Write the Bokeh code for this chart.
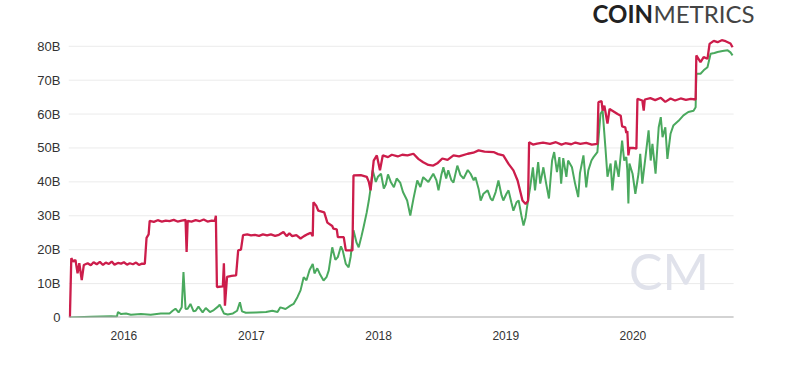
from datetime import datetime
import pandas as pd
from bokeh.plotting import figure
from bokeh.models import Range1d, FixedTicker, DatetimeTickFormatter, Label, ColumnDataSource
from bokeh.embed import file_html
from bokeh.resources import INLINE

# ---------------- data (values in billions) ----------------
red_dates = [
    "2015-07-30", "2015-08-03", "2015-08-09", "2015-08-15", "2015-08-21", "2015-08-26", "2015-09-02",
    "2015-09-08", "2015-09-19", "2015-09-28", "2015-10-06", "2015-10-15", "2015-10-24", "2015-11-02",
    "2015-11-10", "2015-11-19", "2015-11-27", "2015-12-05", "2015-12-15", "2015-12-24", "2016-01-01",
    "2016-01-10", "2016-01-18", "2016-01-27", "2016-02-05", "2016-02-13", "2016-02-22", "2016-03-01",
    "2016-03-06", "2016-03-12", "2016-03-15", "2016-03-27", "2016-04-07", "2016-04-19", "2016-04-30",
    "2016-05-11", "2016-05-23", "2016-06-03", "2016-06-15", "2016-06-26", "2016-06-29", "2016-07-02",
    "2016-07-13", "2016-07-25", "2016-08-05", "2016-08-17", "2016-08-28", "2016-09-09", "2016-09-18",
    "2016-09-21", "2016-09-24", "2016-10-11", "2016-10-14", "2016-10-17", "2016-10-23", "2016-11-05",
    "2016-11-18", "2016-11-24", "2016-12-02", "2016-12-08", "2016-12-20", "2016-12-31", "2017-01-11",
    "2017-01-23", "2017-02-03", "2017-02-15", "2017-02-26", "2017-03-10", "2017-03-21", "2017-04-03",
    "2017-04-12", "2017-04-20", "2017-04-28", "2017-05-10", "2017-05-22", "2017-06-01", "2017-06-12",
    "2017-06-20", "2017-06-26", "2017-06-28", "2017-07-06", "2017-07-12", "2017-07-29", "2017-08-07",
    "2017-08-21", "2017-08-24", "2017-09-03", "2017-09-06", "2017-09-23", "2017-09-29", "2017-10-18",
    "2017-10-21", "2017-11-11", "2017-11-28", "2017-12-04", "2017-12-09", "2017-12-18", "2017-12-27",
    "2018-01-05", "2018-01-13", "2018-01-28", "2018-02-08", "2018-02-25", "2018-03-10", "2018-03-25",
    "2018-04-11", "2018-04-25", "2018-05-09", "2018-05-24", "2018-06-07", "2018-06-20", "2018-07-03",
    "2018-07-18", "2018-08-04", "2018-08-20", "2018-09-14", "2018-09-30", "2018-10-15", "2018-11-01",
    "2018-11-27", "2018-12-10", "2018-12-25", "2019-01-09", "2019-01-23", "2019-02-04", "2019-02-18",
    "2019-02-27", "2019-03-06", "2019-03-09", "2019-03-20", "2019-04-01", "2019-04-18", "2019-05-08",
    "2019-05-25", "2019-06-10", "2019-06-21", "2019-07-08", "2019-07-20", "2019-08-03", "2019-08-20",
    "2019-09-05", "2019-09-21", "2019-09-24", "2019-10-03", "2019-10-06", "2019-10-11", "2019-10-20",
    "2019-10-26", "2019-11-03", "2019-11-18", "2019-11-27", "2019-12-01", "2019-12-10", "2019-12-13",
    "2019-12-16", "2019-12-19", "2019-12-22", "2020-01-02", "2020-01-11", "2020-01-14", "2020-01-28",
    "2020-02-01", "2020-02-04", "2020-02-20", "2020-03-05", "2020-03-21", "2020-04-03", "2020-04-18",
    "2020-05-01", "2020-05-17", "2020-06-01", "2020-06-15", "2020-06-29", "2020-07-01", "2020-07-13",
    "2020-07-22", "2020-08-02", "2020-08-08", "2020-08-20", "2020-08-31", "2020-09-12", "2020-09-23",
    "2020-10-07", "2020-10-13",
]
red_values = [
    0.0, 17.5, 16.5, 17.0, 13.0, 16.0, 11.0,
    15.5, 16.0, 15.4, 16.3, 15.7, 16.4, 15.5,
    16.2, 15.8, 16.5, 15.6, 16.1, 15.9, 16.3,
    15.6, 16.0, 15.7, 16.2, 15.5, 15.9, 15.8,
    23.5, 24.5, 28.5, 28.2, 28.7, 28.3, 28.6,
    28.4, 28.8, 28.3, 28.6, 28.8, 19.3, 28.5,
    28.3, 28.7, 28.4, 28.9, 28.3, 28.6, 28.5,
    30.0, 9.0, 9.2, 16.0, 3.5, 12.0, 12.3,
    12.4, 19.8, 20.0, 24.3, 24.5, 24.2, 24.4,
    24.1, 24.5, 24.2, 24.5, 24.1, 24.4, 25.2,
    24.0, 24.8, 24.0, 24.3, 23.3, 24.0, 24.6,
    25.0, 24.0, 34.0, 33.0, 31.5, 31.0, 28.0,
    27.0, 26.2, 26.0, 23.7, 23.7, 19.8, 19.8,
    41.9, 42.0, 41.5, 40.0, 37.5, 46.3, 47.8,
    43.4, 47.8, 47.3, 48.0, 47.5, 48.0, 47.8,
    48.3, 46.8, 45.8, 45.0, 44.8, 45.6, 46.9,
    46.5, 47.8, 47.5, 48.3, 48.6, 49.3, 48.9,
    48.8, 48.2, 47.8, 45.3, 43.4, 40.4, 34.5,
    33.5, 34.4, 51.7, 51.0, 51.3, 51.6, 51.2,
    51.7, 51.0, 51.4, 51.1, 51.6, 51.2, 51.5,
    51.0, 51.2, 63.5, 63.8, 61.0, 62.5, 57.2,
    61.5, 61.0, 60.0, 59.5, 56.4, 56.1, 54.4,
    55.0, 47.8, 50.0, 50.0, 49.8, 64.5, 64.0,
    61.0, 64.3, 64.7, 64.1, 64.8, 63.6, 64.6,
    64.0, 64.6, 64.2, 64.5, 64.3, 77.3, 75.3,
    76.8, 76.3, 80.7, 81.6, 81.2, 81.8, 81.5,
    80.8, 79.7,
]

green_dates = [
    "2015-07-30", "2015-09-28", "2015-10-27", "2015-11-25", "2015-12-12", "2015-12-15", "2015-12-24",
    "2016-01-07", "2016-01-21", "2016-02-19", "2016-03-18", "2016-04-16", "2016-05-11", "2016-05-20",
    "2016-05-28", "2016-06-06", "2016-06-15", "2016-06-20", "2016-06-26", "2016-07-02", "2016-07-10",
    "2016-07-19", "2016-07-25", "2016-08-02", "2016-08-14", "2016-08-23", "2016-09-04", "2016-09-15",
    "2016-09-27", "2016-10-02", "2016-10-08", "2016-10-14", "2016-10-25", "2016-11-09", "2016-11-21",
    "2016-11-29", "2016-12-05", "2016-12-16", "2017-01-14", "2017-02-12", "2017-03-02", "2017-03-17",
    "2017-03-25", "2017-04-09", "2017-04-23", "2017-05-02", "2017-05-13", "2017-05-22", "2017-05-31",
    "2017-06-08", "2017-06-17", "2017-06-26", "2017-07-01", "2017-07-09", "2017-07-18", "2017-07-27",
    "2017-08-05", "2017-08-11", "2017-08-21", "2017-08-30", "2017-09-06", "2017-09-15", "2017-09-20",
    "2017-09-29", "2017-10-07", "2017-10-13", "2017-10-21", "2017-10-30", "2017-11-05", "2017-11-13",
    "2017-11-19", "2017-11-28", "2017-12-04", "2017-12-09", "2017-12-15", "2017-12-24", "2017-12-30",
    "2018-01-08", "2018-01-16", "2018-01-22", "2018-01-28", "2018-02-05", "2018-02-14", "2018-02-22",
    "2018-03-04", "2018-03-12", "2018-03-24", "2018-04-02", "2018-04-11", "2018-04-22", "2018-05-01",
    "2018-05-09", "2018-05-24", "2018-06-07", "2018-06-16", "2018-06-22", "2018-06-30", "2018-07-06",
    "2018-07-14", "2018-07-20", "2018-07-29", "2018-08-04", "2018-08-15", "2018-08-24", "2018-09-02",
    "2018-09-14", "2018-09-22", "2018-10-01", "2018-10-06", "2018-10-15", "2018-10-21", "2018-10-29",
    "2018-11-10", "2018-11-19", "2018-11-24", "2018-12-03", "2018-12-11", "2018-12-20", "2018-12-25",
    "2019-01-03", "2019-01-09", "2019-01-17", "2019-01-23", "2019-02-01", "2019-02-07", "2019-02-15",
    "2019-02-21", "2019-02-27", "2019-03-03", "2019-03-12", "2019-03-20", "2019-03-26", "2019-04-04",
    "2019-04-10", "2019-04-19", "2019-04-27", "2019-05-05", "2019-05-14", "2019-05-20", "2019-05-28",
    "2019-06-04", "2019-06-09", "2019-06-15", "2019-06-24", "2019-06-29", "2019-07-10", "2019-07-19",
    "2019-07-28", "2019-08-02", "2019-08-12", "2019-08-20", "2019-08-26", "2019-09-04", "2019-09-10",
    "2019-09-21", "2019-09-30", "2019-10-06", "2019-10-14", "2019-10-20", "2019-10-29", "2019-11-03",
    "2019-11-12", "2019-11-21", "2019-12-01", "2019-12-07", "2019-12-13", "2019-12-16", "2019-12-19",
    "2019-12-22", "2019-12-31", "2020-01-08", "2020-01-17", "2020-01-22", "2020-01-28", "2020-02-06",
    "2020-02-15", "2020-02-21", "2020-02-26", "2020-03-06", "2020-03-15", "2020-03-21", "2020-03-26",
    "2020-04-03", "2020-04-09", "2020-04-18", "2020-04-26", "2020-05-11", "2020-05-25", "2020-06-08",
    "2020-06-23", "2020-06-29", "2020-07-01", "2020-07-13", "2020-07-22", "2020-08-02", "2020-08-11",
    "2020-08-22", "2020-08-31", "2020-09-14", "2020-09-29", "2020-10-07", "2020-10-13",
]
green_values = [
    0.0, 0.2, 0.3, 0.4, 0.3, 1.6, 1.0,
    1.2, 0.8, 1.0, 0.8, 1.2, 1.2, 2.0,
    2.6, 1.5, 3.0, 13.4, 2.5, 2.6, 4.0,
    1.8, 2.0, 3.2, 1.5, 2.8, 1.6, 2.2,
    3.2, 3.8, 2.5, 1.2, 0.9, 1.2, 2.0,
    4.5, 1.8, 1.4, 1.5, 1.6, 2.0, 1.6,
    3.0, 2.5, 3.5, 4.0, 6.0, 8.0, 11.9,
    11.0, 14.0, 15.8, 13.0, 14.5, 12.5, 10.9,
    12.0, 13.9, 20.7, 17.0, 17.8, 21.0, 19.8,
    15.8, 14.8, 18.0, 25.7, 22.0, 20.7, 24.0,
    26.7, 31.0, 34.5, 38.0, 43.4, 40.0, 41.5,
    42.4, 38.0, 39.3, 42.2, 40.0, 38.4, 41.0,
    39.8, 37.0, 34.5, 30.1, 35.0, 40.4, 38.5,
    41.4, 40.0, 42.4, 40.5, 37.5, 42.0, 44.3,
    41.0, 43.4, 40.5, 39.8, 44.8, 42.0, 41.0,
    43.5, 42.4, 40.5, 41.4, 38.0, 34.5, 36.5,
    37.5, 35.0, 34.5, 37.0, 40.4, 36.0, 34.5,
    36.5, 37.5, 34.0, 31.5, 34.0, 34.5, 30.0,
    27.1, 29.5, 32.5, 38.4, 44.3, 37.5, 45.8,
    39.5, 44.3, 39.5, 35.1, 46.3, 48.8, 42.9,
    47.3, 39.5, 47.0, 41.5, 46.3, 44.3, 39.5,
    35.5, 42.6, 47.8, 38.4, 43.4, 46.3, 47.3,
    48.8, 60.1, 61.0, 50.2, 41.5, 45.4, 37.5,
    46.3, 41.5, 52.2, 46.3, 47.3, 43.4, 33.6,
    45.4, 42.4, 36.5, 42.4, 48.3, 39.5, 47.3,
    55.2, 46.3, 51.2, 42.4, 56.1, 59.1, 53.2,
    56.1, 46.8, 54.2, 56.6, 58.0, 59.6, 60.6,
    61.0, 62.0, 71.9, 71.9, 72.9, 73.8, 77.8,
    78.0, 78.3, 78.6, 78.8, 78.2, 77.3,
]

y_ticks = [0, 10, 20, 30, 40, 50, 60, 70, 80]
y_tick_labels = ["0", "10B", "20B", "30B", "40B", "50B", "60B", "70B", "80B"]
x_tick_years = [2016, 2017, 2018, 2019, 2020]

# layout constants (plot area extent in data space)
AREA_START = datetime(2015, 7, 26)
AREA_END = datetime(2020, 10, 16)

# ---------------- figure ----------------
red_src = ColumnDataSource(dict(date=pd.to_datetime(red_dates), value=red_values))
green_src = ColumnDataSource(dict(date=pd.to_datetime(green_dates), value=green_values))

p = figure(
    width=800, height=365, title=None,
    x_axis_type="datetime",
    x_range=Range1d(AREA_START, datetime(2021, 4, 26)),
    y_range=Range1d(0, 93.5),
    output_backend="svg", toolbar_location=None,
    min_border_left=68, min_border_right=0, min_border_top=0, min_border_bottom=48,
)
p.outline_line_color = None
p.background_fill_color = "white"
p.border_fill_color = "white"

# grid lines limited to the plot area, plus the baseline
grid_src = ColumnDataSource(dict(x0=[AREA_START] * (len(y_ticks) - 1),
                                 x1=[AREA_END] * (len(y_ticks) - 1),
                                 y=y_ticks[1:]))
p.segment(x0="x0", x1="x1", y0="y", y1="y", source=grid_src, line_color="#ebebeb", line_width=1)

p.line("date", "value", source=green_src, line_color="#4aa95e", line_width=2)
p.line("date", "value", source=red_src, line_color="#cc1d4b", line_width=2.3)

base_src = ColumnDataSource(dict(x0=[AREA_START], x1=[AREA_END], y=[y_ticks[0]]))
p.segment(x0="x0", x1="x1", y0="y", y1="y", source=base_src, line_color="#a8a8a8", line_width=2)

def ms(d):
    return pd.Timestamp(d).timestamp() * 1000.0

# axes
p.xaxis.ticker = FixedTicker(ticks=[ms(f"{y}-01-01") for y in x_tick_years])
p.xaxis.formatter = DatetimeTickFormatter(years="%Y", months="%Y", days="%Y", hours="%Y")
p.xaxis.axis_line_color = None
p.xaxis.major_tick_line_color = None
p.xaxis.minor_tick_line_color = None
p.xaxis.major_tick_out = 0
p.xaxis.major_tick_in = 0
p.xaxis.major_label_standoff = 13
p.xaxis.major_label_text_font = "Liberation Sans"
p.xaxis.major_label_text_font_size = "12px"
p.xaxis.major_label_text_color = "#333333"

p.yaxis.ticker = FixedTicker(ticks=y_ticks)
p.yaxis.major_label_overrides = {t: l for t, l in zip(y_ticks, y_tick_labels)}
p.yaxis.axis_line_color = None
p.yaxis.major_tick_line_color = None
p.yaxis.minor_tick_line_color = None
p.yaxis.major_tick_out = 0
p.yaxis.major_tick_in = 0
p.yaxis.major_label_standoff = 8
p.yaxis.major_label_text_font = "Liberation Sans"
p.yaxis.major_label_text_font_size = "13px"
p.yaxis.major_label_text_color = "#333333"

p.xgrid.visible = False
p.ygrid.visible = False

# watermark
p.add_layout(Label(x=ms("2019-12-21"), y=13.7, text="CM", text_font="Lato",
                   text_font_size="50px", text_color="#e0e2eb", text_baseline="alphabetic"))

# logo (top right)
p.add_layout(Label(x=ms("2019-09-07"), y=89.8, text="COIN", text_font="Lato",
                   text_font_style="bold", text_font_size="24px", text_color="#222222",
                   text_baseline="alphabetic"))
p.add_layout(Label(x=ms("2020-02-29"), y=89.8, text="METRICS", text_font="Lato",
                   text_font_size="24px", text_color="#444444", text_baseline="alphabetic"))

open("out.html", "w").write(file_html(p, INLINE))
